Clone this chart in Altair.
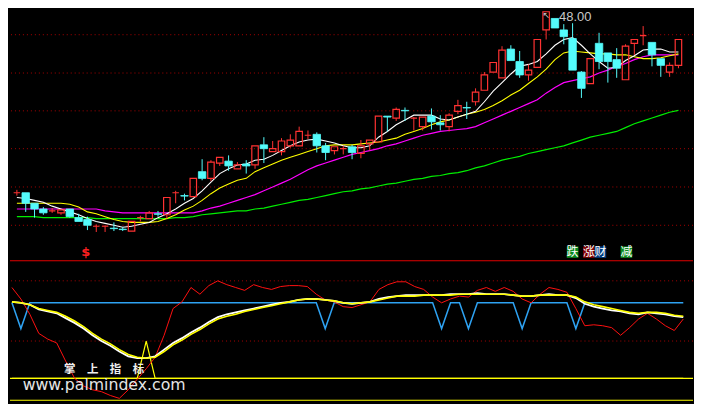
import altair as alt
import pandas as pd
import numpy as np

# ---------------- candle data (price units) ----------------
opens = [29.10, 29.10, 28.00, 27.40, 27.20, 27.00, 27.40, 26.50, 26.30, 25.60,
         25.60, 25.40, 25.30, 25.10, 26.50, 26.40, 26.90, 26.80, 29.10, 28.80,
         28.70, 31.30, 30.60, 32.20, 32.40, 31.60, 32.10, 32.00, 34.10, 33.40,
         33.40, 34.00, 34.00, 35.10, 35.20, 34.00, 33.50, 33.70, 33.90, 33.20,
         34.20, 34.40, 37.10, 36.90, 37.70, 36.90, 36.00, 37.10, 36.40, 36.00,
         37.60, 38.00, 38.60, 39.80, 41.70, 41.10, 44.10, 42.80, 41.40, 42.20,
         46.10, 47.30, 46.10, 45.20, 41.70, 40.50, 44.70, 43.70, 43.00, 40.90,
         44.70, 45.50, 44.80, 43.10, 41.70, 42.40]
highs = [29.40, 29.10, 28.00, 27.60, 27.50, 27.30, 27.40, 26.90, 26.60, 25.80,
         25.70, 26.00, 25.50, 26.10, 26.70, 27.20, 27.20, 28.60, 29.30, 29.00,
         30.60, 32.60, 32.50, 32.80, 33.00, 32.30, 32.50, 34.00, 34.90, 34.50,
         34.80, 35.20, 36.00, 35.60, 35.40, 34.30, 33.90, 34.00, 34.10, 34.60,
         34.60, 37.10, 37.10, 38.00, 38.00, 37.00, 37.00, 37.90, 37.20, 37.40,
         38.80, 38.60, 40.00, 41.70, 42.70, 44.40, 44.50, 43.90, 42.50, 45.10,
         48.00, 47.30, 46.70, 46.80, 41.80, 43.10, 45.80, 43.70, 44.20, 44.60,
         45.10, 46.50, 44.80, 43.10, 42.70, 45.10]
lows = [28.80, 27.10, 26.50, 26.80, 27.00, 26.80, 26.50, 26.10, 25.20, 25.00,
        25.00, 25.10, 25.10, 25.10, 26.10, 26.40, 26.60, 26.40, 28.00, 28.30,
        28.70, 30.40, 30.30, 31.90, 31.40, 31.60, 31.10, 31.60, 32.20, 33.40,
        33.00, 33.80, 34.00, 34.70, 33.30, 32.50, 33.10, 33.10, 32.60, 32.70,
        33.50, 34.40, 35.50, 36.60, 36.60, 35.60, 35.60, 35.70, 35.60, 35.50,
        37.30, 36.80, 38.20, 39.80, 41.70, 41.10, 42.90, 41.10, 40.80, 42.20,
        45.10, 46.30, 44.60, 41.90, 39.00, 40.50, 42.00, 40.60, 41.10, 40.90,
        43.50, 44.50, 42.30, 41.20, 41.20, 42.10]
closes = [29.10, 28.00, 27.40, 27.00, 27.20, 27.30, 26.60, 26.10, 25.70, 25.60,
          25.60, 25.35, 25.25, 26.10, 26.50, 27.00, 26.85, 28.60, 29.10, 28.75,
          30.60, 30.60, 32.30, 32.80, 31.90, 32.00, 31.90, 34.00, 33.70, 33.70,
          34.50, 34.60, 35.50, 35.10, 34.00, 33.30, 33.90, 33.70, 33.30, 34.00,
          34.60, 37.10, 37.00, 37.80, 37.65, 36.90, 37.00, 36.50, 36.20, 37.20,
          38.20, 37.95, 39.60, 41.40, 42.70, 44.00, 42.90, 41.40, 41.90, 45.10,
          48.00, 46.30, 45.40, 41.90, 40.00, 43.10, 42.80, 42.80, 42.10, 44.40,
          45.10, 45.50, 43.50, 42.40, 42.40, 45.10]

# moving averages
ma5 = [28.60, 28.50, 28.30, 28.10, 27.70, 27.40, 27.10, 26.80, 26.40, 26.10,
       25.90, 25.70, 25.50, 25.60, 25.80, 26.00, 26.50, 26.90, 27.40, 28.00,
       28.50, 29.30, 30.20, 31.10, 31.60, 32.00, 32.10, 32.50, 32.60, 33.00,
       33.50, 34.00, 34.40, 34.60, 34.70, 34.50, 34.30, 34.00, 33.80, 33.80,
       34.00, 34.90, 35.50, 36.20, 36.70, 37.20, 37.20, 37.20, 36.80, 36.70,
       37.00, 37.30, 37.60, 38.60, 39.70, 40.60, 41.50, 42.30, 42.50, 42.80,
       43.60, 44.50, 45.10, 45.30, 44.50, 43.60, 42.80, 42.10, 42.20, 42.90,
       43.40, 44.00, 44.10, 44.10, 43.80, 43.80]
ma10 = [28.00, 28.00, 28.00, 28.00, 28.00, 28.00, 27.90, 27.60, 27.10, 26.90,
        26.60, 26.30, 26.10, 26.00, 26.00, 26.00, 26.10, 26.40, 26.80, 27.30,
        27.70, 28.30, 29.00, 29.60, 30.00, 30.40, 30.60, 31.30, 31.70, 32.10,
        32.50, 32.80, 33.10, 33.40, 33.70, 34.00, 34.10, 34.10, 34.10, 34.20,
        34.30, 34.40, 34.60, 34.80, 35.20, 35.50, 35.80, 36.20, 36.50, 36.70,
        37.00, 37.30, 37.50, 37.80, 38.20, 38.70, 39.30, 39.80, 40.50, 41.20,
        42.00, 43.00, 43.70, 43.90, 43.80, 43.70, 43.60, 43.60, 43.50, 43.50,
        43.30, 43.10, 43.10, 43.20, 43.40, 43.60]
ma20 = [27.40, 27.40, 27.40, 27.40, 27.40, 27.40, 27.40, 27.40, 27.40, 27.40,
        27.20, 27.10, 27.00, 27.00, 27.00, 27.00, 27.00, 27.00, 27.00, 27.00,
        27.00, 27.20, 27.50, 27.70, 28.00, 28.30, 28.60, 28.90, 29.30, 29.70,
        30.10, 30.50, 31.00, 31.50, 31.90, 32.20, 32.50, 32.80, 33.10, 33.30,
        33.50, 33.70, 34.00, 34.20, 34.50, 34.80, 35.10, 35.30, 35.50, 35.60,
        35.70, 35.80, 36.00, 36.40, 36.80, 37.20, 37.60, 38.00, 38.40, 38.80,
        39.50, 40.10, 40.60, 40.80, 41.00, 41.20, 41.60, 41.90, 42.30, 42.60,
        43.00, 43.30, 43.50, 43.50, 43.50, 43.50]
ma60 = [26.60, 26.60, 26.60, 26.50, 26.50, 26.50, 26.50, 26.50, 26.50, 26.40,
        26.40, 26.40, 26.40, 26.40, 26.40, 26.40, 26.40, 26.40, 26.50, 26.50,
        26.60, 26.80, 26.90, 27.00, 27.10, 27.20, 27.20, 27.40, 27.50, 27.70,
        27.90, 28.10, 28.30, 28.40, 28.60, 28.80, 29.00, 29.20, 29.30, 29.50,
        29.60, 29.80, 30.00, 30.10, 30.30, 30.50, 30.60, 30.80, 30.90, 31.10,
        31.20, 31.40, 31.70, 31.90, 32.20, 32.50, 32.70, 32.90, 33.20, 33.40,
        33.60, 33.80, 34.00, 34.30, 34.60, 34.90, 35.10, 35.30, 35.50, 35.90,
        36.30, 36.60, 36.90, 37.20, 37.50, 37.70]
grid_prices = [45.6, 41.6, 37.65, 33.7, 29.7, 25.7]

# signal labels under the price panel
dollar_pos = 7.8
signal_labels = ["跌", "涨", "财", "减"]
signal_pos = [63.0, 64.85, 66.15, 69.1]
signal_bg = ["#0a8a1e", "#800000", "#003c80", "#0a8a1e"]

# ---------------- indicator panel ----------------
osc_red = [121, 109, 93, 73, 67, 63, 44, 26, 18, 14,
           12, 8, 5, 14, 25, 36, 48, 71, 99, 106,
           121, 114, 123, 128, 124, 121, 118, 124, 121, 119,
           122, 123, 123, 122, 114, 108, 106, 101, 100, 103,
           106, 119, 124, 127, 127, 122, 119, 111, 105, 109,
           112, 111, 118, 121, 117, 121, 117, 109, 105, 114,
           121, 119, 116, 99, 81, 82, 81, 79, 71, 79,
           88, 94, 88, 81, 76, 88]
osc_yellow = [106, 105, 103, 99, 97, 95, 91, 86, 80, 73,
              67, 62, 56, 51, 48, 47, 48, 54, 61, 66,
              72, 77, 83, 88, 91, 93, 96, 98, 100, 102,
              104, 106, 108, 109, 109, 108, 107, 105, 104, 105,
              106, 108, 110, 112, 112, 112, 113, 113, 113, 113,
              114, 114, 114, 114, 114, 114, 113, 112, 112, 113,
              113, 113, 113, 111, 106, 103, 101, 99, 97, 95,
              94, 95, 95, 94, 92, 91]
osc_white = [106, 105, 103, 98, 96, 94, 89, 84, 78, 71,
             65, 60, 54, 49, 47, 47, 49, 56, 63, 68,
             74, 79, 85, 90, 93, 95, 97, 99, 101, 103,
             105, 106, 108, 109, 109, 108, 107, 105, 104, 105,
             106, 109, 111, 112, 113, 113, 113, 113, 113, 114,
             114, 114, 115, 114, 114, 114, 113, 112, 112, 113,
             114, 113, 113, 110, 104, 101, 99, 97, 96, 94,
             93, 95, 94, 93, 91, 90]
osc_blue = [105, 78, 105, 105, 105, 105, 105, 105, 105, 105,
            105, 105, 105, 105, 105, 105, 105, 105, 105, 105,
            105, 105, 105, 105, 105, 105, 105, 105, 105, 105,
            105, 105, 105, 105, 105, 78, 105, 105, 105, 105,
            105, 105, 105, 105, 105, 105, 105, 105, 78, 105,
            105, 78, 105, 105, 105, 105, 105, 78, 105, 105,
            105, 105, 105, 78, 105, 105, 105, 105, 105, 105,
            105, 105, 105, 105, 105, 105]
osc_spike = [26, 26, 26, 26, 26, 26, 26, 26, 26, 26,
             26, 26, 26, 26, 26, 65, 26, 26, 26, 26,
             26, 26, 26, 26, 26, 26, 26, 26, 26, 26,
             26, 26, 26, 26, 26, 26, 26, 26, 26, 26,
             26, 26, 26, 26, 26, 26, 26, 26, 26, 26,
             26, 26, 26, 26, 26, 26, 26, 26, 26, 26,
             26, 26, 26, 26, 26, 26, 26, 26, 26, 26,
             26, 26, 26, 26, 26, 26]
osc_levels_dotted = [128, 65]
osc_level_upper = 26
osc_level_floor = 3
osc_divider = 149

# ---------------- layout / style ----------------
W, H_TOP, H_BOT = 686, 252, 143
RED = "#ff3232"
CYAN = "#54fcfc"
GRID = "#a80000"

xs = alt.Scale(domain=[-0.217, 76.087], nice=False, zero=False)
ps = alt.Scale(domain=[22.1, 48.3], nice=False, zero=False)
vs = alt.Scale(domain=[0, 149], nice=False, zero=False)

idx = list(range(len(opens)))
cdf = pd.DataFrame(dict(i=idx, o=opens, h=highs, l=lows, c=closes))
cdf["lo"] = cdf[["o", "c"]].min(axis=1)
cdf["hi"] = cdf[["o", "c"]].max(axis=1)
cdf["up"] = cdf["c"] >= cdf["o"]
cdf["col"] = np.where(cdf["up"], RED, CYAN)

X = alt.X("i:Q", scale=xs, axis=None)

grid = alt.Chart(pd.DataFrame({"p": grid_prices})).mark_rule(
    color=GRID, strokeDash=[1, 3], strokeWidth=1
).encode(y=alt.Y("p:Q", scale=ps, axis=None))

ma_df = pd.DataFrame({"i": idx, "ma5": ma5, "ma10": ma10, "ma20": ma20, "ma60": ma60})


def ma_line(field, color, width):
    return alt.Chart(ma_df).mark_line(color=color, strokeWidth=width).encode(
        x=X, y=alt.Y(f"{field}:Q", scale=ps, axis=None)
    )


ma_layers = [
    ma_line("ma60", "#00ee00", 1.2),
    ma_line("ma20", "#ff00ff", 1.2),
    ma_line("ma10", "#ffff00", 1.1),
    ma_line("ma5", "#ffffff", 1.1),
]

upper_wick = alt.Chart(cdf).mark_rule(strokeWidth=1).encode(
    x=X, y=alt.Y("hi:Q", scale=ps, axis=None), y2="h:Q",
    color=alt.Color("col:N", scale=None),
)
lower_wick = alt.Chart(cdf).mark_rule(strokeWidth=1).encode(
    x=X, y=alt.Y("l:Q", scale=ps, axis=None), y2="lo:Q",
    color=alt.Color("col:N", scale=None),
)
red_bodies = alt.Chart(cdf).transform_filter("datum.up").mark_bar(
    size=6.5, filled=False, stroke=RED, strokeWidth=1.2
).encode(x=X, y=alt.Y("lo:Q", scale=ps, axis=None), y2="hi:Q")
cyan_bodies = alt.Chart(cdf).transform_filter("!datum.up").mark_bar(
    size=7.5, color=CYAN, stroke=CYAN, strokeWidth=0.8
).encode(x=X, y=alt.Y("lo:Q", scale=ps, axis=None), y2="hi:Q")

hi_i = int(cdf["h"].idxmax())
hi_df = pd.DataFrame({"i": [hi_i], "h": [cdf["h"].max()], "label": [f"{cdf['h'].max():.2f}"]})
hi_label = alt.Chart(hi_df).mark_text(
    align="left", baseline="middle", dx=13, dy=5, fontSize=13,
    font="Liberation Sans", color="#c8c8c8"
).encode(x=X, y=alt.Y("h:Q", scale=ps, axis=None), text="label:N")
hi_arrow = alt.Chart(hi_df).mark_text(
    align="center", baseline="middle", dx=0, dy=3, fontSize=9,
    font="DejaVu Sans", color="#c8c8c8", text="↖"
).encode(x=X, y=alt.Y("h:Q", scale=ps, axis=None))

dollar = alt.Chart(pd.DataFrame({"i": [dollar_pos], "p": [22.9], "t": ["$"]})).mark_text(
    fontSize=13, fontWeight="bold", color="#ff2020", font="DejaVu Sans", baseline="middle"
).encode(x=X, y=alt.Y("p:Q", scale=ps, axis=None), text="t:N")

sig_df = pd.DataFrame({"i": signal_pos, "t": signal_labels, "bg": signal_bg})
sig_df["x0"] = sig_df["i"] - 0.66
sig_df["x1"] = sig_df["i"] + 0.66
sig_df["y0"] = 22.3
sig_df["y1"] = 23.5
sig_df["ym"] = 22.9
sig_rect = alt.Chart(sig_df).mark_rect().encode(
    x=alt.X("x0:Q", scale=xs, axis=None), x2="x1:Q",
    y=alt.Y("y0:Q", scale=ps, axis=None), y2="y1:Q",
    color=alt.Color("bg:N", scale=None),
)
sig_text = alt.Chart(sig_df).mark_text(
    fontSize=12, color="#ffffff", font="Noto Sans CJK SC", baseline="middle"
).encode(x=X, y=alt.Y("ym:Q", scale=ps, axis=None), text="t:N")

top = alt.layer(
    grid, *ma_layers, upper_wick, lower_wick, red_bodies, cyan_bodies,
    hi_arrow, hi_label, dollar, sig_rect, sig_text
).properties(width=W, height=H_TOP)

# ---------------- bottom panel ----------------
odf = pd.DataFrame({"i": idx, "red": osc_red, "yel": osc_yellow, "wht": osc_white,
                    "blu": osc_blue, "spk": osc_spike})

dotted = alt.Chart(pd.DataFrame({"v": osc_levels_dotted})).mark_rule(
    color=GRID, strokeDash=[1, 3], strokeWidth=1
).encode(y=alt.Y("v:Q", scale=vs, axis=None))
divider = alt.Chart(pd.DataFrame({"v": [osc_divider]})).mark_rule(
    color="#e00000", strokeWidth=1.2
).encode(y=alt.Y("v:Q", scale=vs, axis=None))
levels = alt.Chart(pd.DataFrame({"v": [osc_level_upper, osc_level_floor]})).mark_rule(
    color="#ffff00", strokeWidth=1.2
).encode(y=alt.Y("v:Q", scale=vs, axis=None))


def osc_line(field, color, width):
    return alt.Chart(odf).mark_line(color=color, strokeWidth=width).encode(
        x=X, y=alt.Y(f"{field}:Q", scale=vs, axis=None)
    )


watermark_cn = alt.Chart(pd.DataFrame({"i": [10.3], "v": [35], "t": ["掌　上　指　标"]})).mark_text(
    fontSize=11.5, fontWeight="bold", color="#eeeeee", font="Noto Sans CJK SC", baseline="middle"
).encode(x=X, y=alt.Y("v:Q", scale=vs, axis=None), text="t:N")
watermark_url = alt.Chart(pd.DataFrame({"i": [10.3], "v": [18.5], "t": ["www.palmindex.com"]})).mark_text(
    fontSize=15.8, color="#e6e6e6", font="DejaVu Sans", baseline="middle"
).encode(x=X, y=alt.Y("v:Q", scale=vs, axis=None), text="t:N")

bottom = alt.layer(
    dotted, divider, levels,
    osc_line("spk", "#ffff00", 1.2),
    osc_line("blu", "#2ea2f2", 1.5),
    osc_line("red", "#ff1010", 1.0),
    osc_line("wht", "#ffffff", 1.8),
    osc_line("yel", "#ffff00", 1.6),
    watermark_cn, watermark_url,
).properties(width=W, height=H_BOT)

chart = alt.vconcat(top, bottom, spacing=0).properties(
    background="#000000", padding=0
).configure_view(stroke=None).configure_concat(spacing=0)

chart.save("out.html", embed_options={"renderer": "svg", "actions": False})
